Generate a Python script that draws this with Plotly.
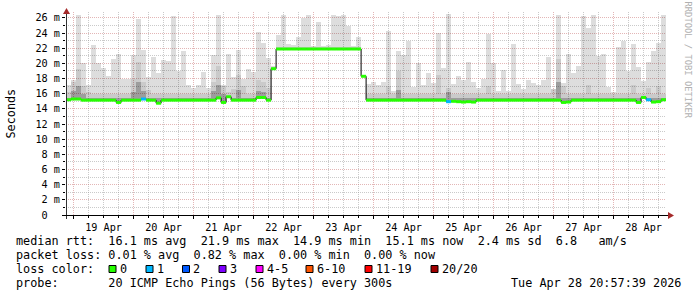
import pandas as pd
import plotly.graph_objects as go

# ---------------- data (2-hour consolidated steps, starting 2026-04-18 21:00) -------------
start_time = "2026-04-18 21:00"
step_hours = 2
window = ["2026-04-18 20:57:39", "2026-04-28 20:57:39"]

# median round-trip time (ms)
median_ms = [
    15.2, 15.3, 15.3, 15.15, 15.15, 15.15, 15.15, 15.15, 15.15, 15.15,
    14.85, 15.15, 15.15, 15.15, 15.15, 15.3, 15.15, 15.15, 14.75, 15.15,
    15.15, 15.15, 15.15, 15.15, 15.15, 15.15, 15.15, 15.15, 15.15, 15.15,
    15.45, 14.85, 15.6, 15.15, 15.15, 15.15, 15.15, 15.15, 15.5, 15.5,
    15.15, 19.3, 21.9, 21.9, 21.9, 21.9, 21.9, 21.9, 21.9, 21.9,
    21.9, 21.9, 21.9, 21.9, 21.9, 21.9, 21.9, 21.9, 21.9, 18.3,
    15.15, 15.15, 15.15, 15.15, 15.15, 15.15, 15.15, 15.15, 15.15, 15.15,
    15.15, 15.15, 15.15, 15.15, 15.15, 15.15, 14.95, 15.0, 14.95, 14.9,
    14.95, 14.9, 15.15, 15.15, 15.15, 15.15, 15.15, 15.15, 15.15, 15.15,
    15.15, 15.15, 15.15, 15.15, 15.15, 15.15, 15.15, 15.15, 15.15, 14.85,
    14.9, 15.15, 15.15, 15.15, 15.15, 15.15, 15.15, 15.15, 15.15, 15.15,
    15.15, 15.15, 15.15, 15.15, 14.85, 15.5, 15.2, 14.9, 14.95, 15.2,
]
# highest ping of the step (top of the light smoke)
max_ms = [
    17.2, 17.8, 26.4, 20.0, 17.1, 22.4, 20.0, 19.4, 18.4, 20.6,
    21.2, 18.0, 18.0, 21.1, 25.8, 21.8, 18.2, 20.9, 18.7, 20.4,
    20.3, 26.3, 19.0, 21.6, 17.1, 16.8, 17.1, 18.9, 16.8, 21.1,
    26.4, 17.2, 21.3, 18.2, 21.8, 18.0, 19.3, 18.9, 24.1, 22.7,
    20.7, 19.6, 23.7, 26.4, 22.5, 22.4, 23.5, 26.0, 26.4, 22.3,
    25.5, 22.3, 22.4, 26.4, 26.2, 26.4, 25.0, 22.3, 23.5, 18.5,
    17.3, 17.6, 17.1, 17.5, 24.3, 16.4, 21.6, 21.1, 22.9, 16.9,
    20.0, 17.1, 18.7, 17.4, 24.0, 19.4, 26.5, 17.3, 18.4, 17.8,
    20.2, 17.6, 16.8, 18.0, 23.9, 20.0, 16.4, 19.1, 16.4, 22.5,
    17.3, 16.6, 17.8, 17.4, 17.1, 17.8, 20.8, 16.6, 26.4, 17.4,
    21.2, 18.7, 19.7, 26.2, 24.7, 26.4, 21.0, 21.2, 16.9, 16.2,
    22.1, 23.0, 19.0, 22.5, 19.5, 17.7, 20.2, 21.6, 22.7, 26.4,
]
# upper-middle ping of the step (top of the medium smoke)
mid_ms = [
    16.2, 17.5, 19.3, 17.0, 16.2, 16.0, 16.0, 16.0, 16.0, 16.0,
    16.0, 16.0, 16.0, 18.0, 20.2, 17.5, 16.5, 16.0, 16.0, 16.0,
    16.0, 16.0, 16.0, 16.0, 16.0, 16.0, 16.0, 16.0, 16.0, 17.5,
    19.6, 17.0, 16.2, 16.6, 18.5, 17.0, 16.0, 16.0, 17.8, 17.5,
    16.8, 19.5, 22.2, 22.2, 22.2, 22.2, 22.2, 22.2, 22.2, 22.2,
    22.2, 22.2, 22.2, 22.2, 22.2, 22.2, 22.2, 22.2, 22.2, 18.45,
    16.0, 16.0, 16.0, 16.0, 17.0, 16.0, 19.0, 16.0, 16.0, 16.0,
    16.0, 16.0, 16.0, 16.0, 18.5, 16.0, 16.8, 16.0, 16.0, 16.0,
    16.0, 16.0, 16.0, 16.0, 17.0, 16.0, 16.0, 16.0, 16.0, 16.0,
    16.0, 16.0, 16.0, 16.0, 16.0, 16.0, 16.0, 16.6, 20.6, 17.0,
    16.0, 16.0, 16.0, 16.0, 17.2, 16.0, 16.0, 16.0, 16.0, 16.0,
    16.0, 16.0, 16.0, 17.2, 16.0, 16.0, 16.8, 16.0, 17.0, 16.0,
]
# lower-middle ping of the step (top of the dark smoke)
dark_ms = [
    15.5, 16.3, 17.0, 16.0, 15.5, 15.5, 15.5, 15.5, 15.5, 15.5,
    15.5, 15.5, 15.5, 16.2, 17.5, 16.3, 15.5, 15.5, 15.5, 15.5,
    15.5, 15.5, 15.5, 15.5, 15.5, 15.5, 15.5, 15.5, 15.5, 16.3,
    17.2, 16.0, 15.7, 15.5, 16.5, 15.5, 15.5, 15.5, 16.4, 16.2,
    15.5, 19.4, 22.05, 22.05, 22.05, 22.05, 22.05, 22.05, 22.05, 22.05,
    22.05, 22.05, 22.05, 22.05, 22.05, 22.05, 22.05, 22.05, 22.05, 18.4,
    15.5, 15.5, 15.5, 15.5, 15.5, 15.5, 16.5, 15.5, 15.5, 15.5,
    15.5, 15.5, 15.5, 15.5, 15.5, 15.5, 16.2, 15.5, 15.5, 15.5,
    15.5, 15.5, 15.5, 15.5, 15.5, 15.5, 15.5, 15.5, 15.5, 15.5,
    15.5, 15.5, 15.5, 15.5, 15.5, 15.5, 15.5, 15.5, 17.5, 15.5,
    15.5, 15.5, 15.5, 15.5, 15.5, 15.5, 15.5, 15.5, 15.5, 15.5,
    15.5, 15.5, 15.5, 15.5, 15.5, 15.7, 15.5, 15.5, 15.5, 15.5,
]
# lost pings per step (of 20)
lost_pings = [0] * 120
for _i in (15, 76, 116):
    lost_pings[_i] = 1

loss_labels = ["0", "1", "2", "3", "4-5", "6-10", "11-19", "20/20"]
loss_upper = [0, 1, 2, 3, 5, 10, 19, 20]
loss_colors = ["#26ff00", "#00b8ff", "#0059ff", "#7e00ff", "#ff00ff", "#ff5500", "#ff0000", "#a10000"]

y_ticks = list(range(0, 27, 2))
y_labels = ["0\u00a0\u00a0"] + [f"{v}\u00a0m" for v in y_ticks[1:]]

line_rtt = "median rtt:  16.1 ms avg  21.9 ms max  14.9 ms min  15.1 ms now  2.4 ms sd  6.8   am/s"
line_loss = "packet loss: 0.01 % avg  0.82 % max  0.00 % min  0.00 % now"
line_color = "loss color:"
line_probe = "probe:       20 ICMP Echo Pings (56 Bytes) every 300s"
stamp = "Tue Apr 28 20:57:39 2026"

# ---------------- layout geometry -------------
W, H = 697, 297
ML, MR, MT, MB = 66, 31, 12, 82
PW, PH = W - ML - MR, H - MT - MB
PX_PER_MS = 7.58
FONT = "DejaVu Sans Mono"
LEG_SIZE = 11.8


def X(px):
    return (px - ML) / PW


def Y(py):
    return (H - MB - py) / PH


def nb(s):
    return s.replace(" ", "\u00a0")


step = pd.Timedelta(hours=step_hours)
t0 = pd.Timestamp(start_time)
n = len(median_ms)
times = [t0 + step * i for i in range(n)]
centers = [t + step / 2 for t in times]
width_ms = step.total_seconds() * 1000

fig = go.Figure()

# smoke (semi-transparent so the grid shows through as in rrdtool)
for top, col in [(max_ms, "rgba(0,0,0,0.133)"), (mid_ms, "rgba(0,0,0,0.085)"), (dark_ms, "rgba(0,0,0,0.22)")]:
    fig.add_trace(go.Bar(
        x=centers, y=[a - b for a, b in zip(top, median_ms)], base=median_ms,
        width=width_ms, marker=dict(color=col, line=dict(width=0)),
        hoverinfo="skip", showlegend=False))

# black step connector of the median
fig.add_trace(go.Scatter(
    x=times + [times[-1] + step], y=median_ms + [median_ms[-1]], mode="lines",
    line=dict(color="#000000", width=1, shape="hv"), hoverinfo="skip", showlegend=False))


def bucket(lost):
    for k, up in enumerate(loss_upper):
        if lost <= up:
            return k
    return len(loss_upper) - 1


for k, col in enumerate(loss_colors):
    sx, sy = [], []
    for i in range(n):
        if bucket(lost_pings[i]) == k:
            sx += [times[i], times[i] + step, None]
            sy += [median_ms[i], median_ms[i], None]
    if sx:
        fig.add_trace(go.Scatter(x=sx, y=sy, mode="lines", line=dict(color=col, width=3),
                                 hoverinfo="skip", showlegend=False))

MAJ = "rgba(200,110,110,0.5)"
MIN = "rgba(150,150,150,0.5)"
DOT = "1px,1px"

fig.update_xaxes(
    type="date", range=window, tick0="2026-04-19", dtick=86400000,
    tickformat="%d %b", ticklabelmode="period",
    showgrid=True, gridcolor=MAJ, griddash=DOT, gridwidth=1,
    showline=False, zeroline=False, ticks="outside", ticklen=3, tickcolor="#000",
    tickfont=dict(family=FONT, size=10.2, color="#000"),
    minor=dict(dtick=6 * 3600000, tick0="2026-04-19", showgrid=True, gridcolor=MIN,
               griddash=DOT, ticks="outside", ticklen=2, tickcolor="#000"),
    layer="above traces", fixedrange=True)

fig.update_yaxes(
    range=[0, PH / PX_PER_MS], tickmode="array", tickvals=y_ticks, ticktext=y_labels,
    showgrid=True, gridcolor=MAJ, griddash=DOT, gridwidth=1,
    showline=False, zeroline=False, ticks="outside", ticklen=3, tickcolor="#000",
    tickfont=dict(family=FONT, size=10.2, color="#000"),
    minor=dict(tickmode="array", tickvals=list(range(1, 27, 2)), showgrid=True,
               gridcolor=MIN, griddash=DOT, ticks="outside", ticklen=2, tickcolor="#000"),
    layer="above traces", fixedrange=True)

shapes = [
    dict(type="line", xref="paper", yref="paper", x0=X(66.5), x1=X(66.5), y0=Y(219), y1=Y(13),
         line=dict(color="#333333", width=1)),
    dict(type="line", xref="paper", yref="paper", x0=X(62), x1=X(669), y0=Y(215.5), y1=Y(215.5),
         line=dict(color="#000000", width=1)),
    dict(type="path", xref="paper", yref="paper",
         path=f"M {X(66.5)} {Y(8)} L {X(63)} {Y(14)} L {X(70)} {Y(14)} Z",
         fillcolor="#a52a2a", line=dict(width=0)),
    dict(type="path", xref="paper", yref="paper",
         path=f"M {X(674)} {Y(215.5)} L {X(668)} {Y(212)} L {X(668)} {Y(219)} Z",
         fillcolor="#a52a2a", line=dict(width=0)),
]

ann = []


def txt(s, px, py, anchor="left", size=LEG_SIZE, color="#000", angle=0):
    ann.append(dict(text=nb(s), x=X(px), y=Y(py), xref="paper", yref="paper", xanchor=anchor,
                    yanchor="middle", showarrow=False, borderpad=0, borderwidth=0,
                    textangle=angle, font=dict(family=FONT, size=size, color=color)))


txt(line_rtt, 16, 241)
txt(line_loss, 16, 255)
txt(line_color, 16, 269)
box_x = [109, 146, 182.5, 219, 256, 306, 365, 431]
for lab, col, bx in zip(loss_labels, loss_colors, box_x):
    shapes.append(dict(type="rect", xref="paper", yref="paper", x0=X(bx), x1=X(bx + 7),
                       y0=Y(272.5), y1=Y(265.5), fillcolor=col, line=dict(color="#000", width=1)))
    txt(lab, bx + 10.5, 269)
txt(line_probe, 16, 283)
txt(stamp, 681, 283, anchor="right")

txt("Seconds", 10.5, 114, anchor="center", angle=-90)
txt("RRDTOOL / TOBI OETIKER", 687.5, 60, anchor="center", size=8.8, color="#b0b0b0", angle=90)

fig.update_layout(
    width=W, height=H, margin=dict(l=ML, r=MR, t=MT, b=MB, pad=0),
    paper_bgcolor="#ffffff", plot_bgcolor="#ffffff",
    barmode="overlay", bargap=0, showlegend=False,
    shapes=shapes, annotations=ann, font=dict(family=FONT))

fig.write_html("out.html")
